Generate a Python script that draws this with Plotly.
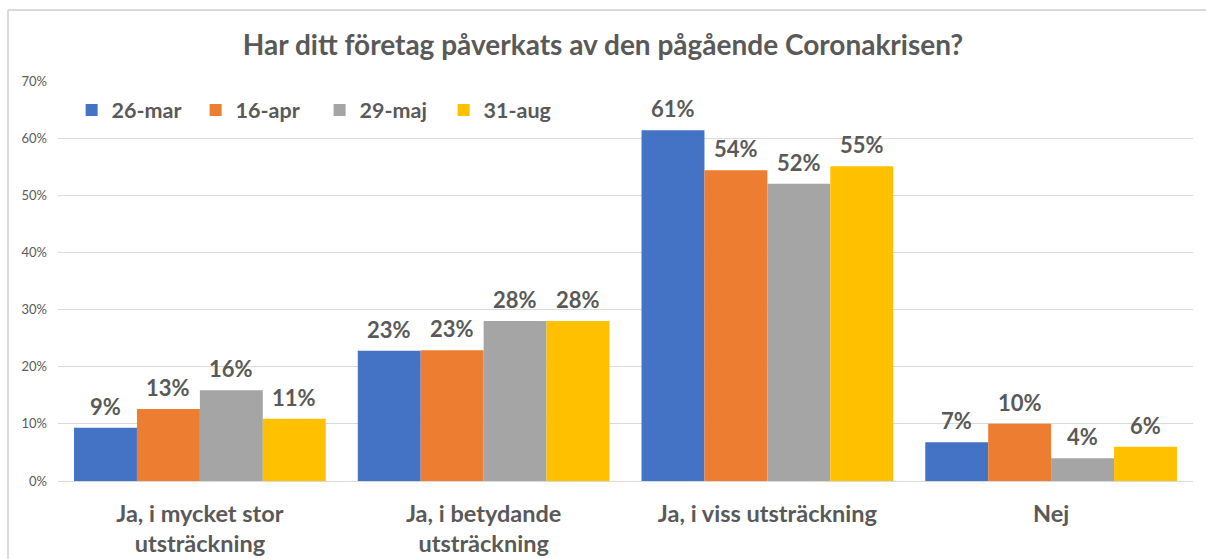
import plotly.graph_objects as go

categories = ["Ja, i mycket stor<br>utsträckning", "Ja, i betydande<br>utsträckning",
              "Ja, i viss utsträckning", "Nej"]
series_names = ["26-mar", "16-apr", "29-maj", "31-aug"]
v_26mar = [0.093, 0.228, 0.614, 0.068]
v_16apr = [0.126, 0.229, 0.544, 0.100]
v_29maj = [0.159, 0.280, 0.520, 0.040]
v_31aug = [0.109, 0.280, 0.551, 0.060]
colors = ["#4472C4", "#ED7D31", "#A5A5A5", "#FFC000"]
y_ticks = [0, 0.1, 0.2, 0.3, 0.4, 0.5, 0.6, 0.7]

FONT = "Lato, Open Sans, sans-serif"
TXT = "#595959"

W, H = 1206, 559
ml, mr, mt, mb = 58, 13, 81, 78
pw, ph = W - ml - mr, H - mt - mb
BARGAP = 0.113
n_series = len(series_names)
bar_px = pw / len(categories) * (1 - BARGAP) / n_series

fig = go.Figure()
annotations = []
for i, (name, vals, col) in enumerate(zip(series_names, [v_26mar, v_16apr, v_29maj, v_31aug], colors)):
    fig.add_trace(go.Bar(
        x=categories, y=vals, name="<b>" + name + "</b>", marker=dict(color=col, line=dict(width=0)),
    ))
    for cat, v in zip(categories, vals):
        annotations.append(dict(
            x=cat, y=v, xref="x", yref="y", text="<b>%d%%</b>" % round(v * 100),
            showarrow=False, xanchor="center", yanchor="bottom",
            xshift=(i - (n_series - 1) / 2) * bar_px, yshift=6,
            font=dict(family=FONT, size=22, color=TXT),
        ))

fx = (8 - ml) / pw
fy = (H - mb - 10) / ph
fr = (W + 5 - ml) / pw
fb = (H - mb - (H + 5)) / ph

fig.update_layout(
    width=W, height=H,
    margin=dict(l=ml, r=mr, t=mt, b=mb, autoexpand=False),
    paper_bgcolor="white", plot_bgcolor="white",
    barmode="group", bargap=BARGAP, bargroupgap=0,
    title=dict(text="<b>Har ditt företag påverkats av den pågående Coronakrisen?</b>",
               x=0.5, xref="container", xanchor="center", y=1 - 45 / H, yanchor="middle",
               font=dict(family=FONT, size=28, color=TXT)),
    legend=dict(orientation="h", x=0.012, xanchor="left", y=(H - mb - 110) / ph, yanchor="middle",
                font=dict(family=FONT, size=21.5, color=TXT), bgcolor="rgba(0,0,0,0)",
                entrywidth=79, entrywidthmode="pixels", traceorder="normal"),
    xaxis=dict(showgrid=False, showline=False, ticks="", automargin=False,
               ticklabelstandoff=16,
               tickfont=dict(family=FONT, size=23.5, color=TXT)),
    yaxis=dict(range=[0, 0.7], tickvals=y_ticks, tickformat=".0%", automargin=False,
               showgrid=True, gridcolor="#D9D9D9", gridwidth=1.3,
               zeroline=True, zerolinecolor="#D9D9D9", zerolinewidth=1.3,
               ticks="", ticklabelstandoff=10,
               tickfont=dict(family=FONT, size=13, color=TXT)),
    annotations=annotations,
    shapes=[
        dict(type="line", xref="paper", yref="paper", x0=fx, x1=fr, y0=fy, y1=fy,
             line=dict(color="#D9D9D9", width=2)),
        dict(type="line", xref="paper", yref="paper", x0=fx, x1=fx, y0=fy, y1=fb,
             line=dict(color="#D9D9D9", width=2)),
    ],
)
fig.update_xaxes(tickangle=0, tickvals=categories,
                 ticktext=["<b>" + c + "</b>" for c in categories])

fig.write_html("out.html", config={"displayModeBar": False},
               post_script="document.body.style.margin='0';")
